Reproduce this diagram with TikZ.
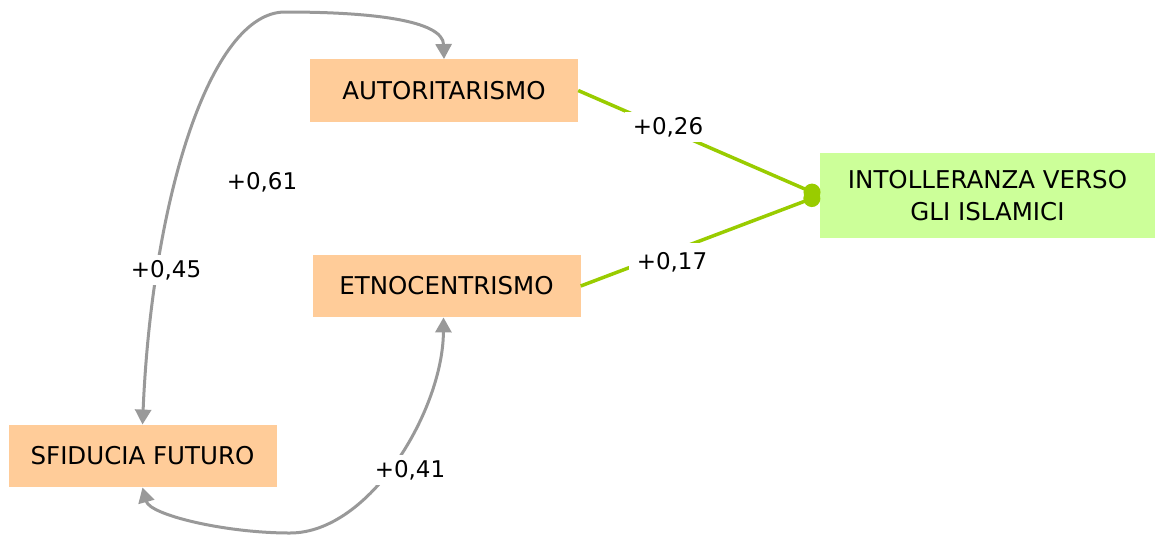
\documentclass[tikz,border=0pt]{standalone}
\usepackage{fontspec}
\setmainfont{DejaVu Sans}
\usetikzlibrary{arrows.meta}
\definecolor{boxorange}{HTML}{FFCC99}
\definecolor{boxgreen}{HTML}{CCFF99}
\definecolor{linegrey}{HTML}{999999}
\definecolor{linegreen}{HTML}{99CC00}
\newcommand\bxfont{\fontsize{24.5}{32}\selectfont}
\newcommand\lbfont{\fontsize{23}{26}\selectfont}
\tikzset{
  obox/.style={fill=boxorange, minimum width=268pt, minimum height=62.5pt, inner sep=0pt, font=\bxfont},
  gbox/.style={fill=boxgreen, minimum width=335pt, minimum height=85pt, inner sep=0pt, font=\bxfont, align=center},
  gcurve/.style={draw=linegrey, line width=3pt, {Triangle[length=15pt,width=16pt]}-{Triangle[length=15pt,width=16pt]}},
  grline/.style={draw=linegreen, line width=3.5pt, -{Circle[length=17pt]}},
  lab/.style={font=\lbfont, text=black, inner xsep=8pt, inner ysep=5pt},
  wlab/.style={lab, fill=white},
}
\begin{document}
\begin{tikzpicture}[x=1pt, y=-1pt]
\useasboundingbox (0,0) rectangle (1155,536);
\node[obox] (auto) at (444,90.5) {AUTORITARISMO};
\node[obox] (etno) at (446.5,286) {ETNOCENTRISMO};
\node[obox] (sfid) at (142.5,456) {SFIDUCIA FUTURO};
\node[gbox] (intol) at (987.5,195.5) {INTOLLERANZA VERSO\\GLI ISLAMICI};

\draw[gcurve] (sfid.north) .. controls (152,200) and (210,12) .. (285,12)
  .. controls (370,12) and (443,20) .. (auto.north);
\draw[gcurve] (sfid.south) .. controls (150,515) and (225,533) .. (290,533)
  .. controls (370,533) and (443,410) .. ([xshift=-3pt]etno.south);

\draw[grline] (auto.east) -- (intol.west);
\draw[grline] (etno.east) -- (intol.west);

\node[wlab] (l45) at (166,270) {+0,45};
\node[wlab] (l41) at (410,470) {+0,41};
\node[lab] (l61) at (262,182) {+0,61};
\node[wlab] (l26) at (668,127) {+0,26};
\node[wlab, inner ysep=9pt] (l17) at (672,262) {+0,17};
\end{tikzpicture}
\end{document}
